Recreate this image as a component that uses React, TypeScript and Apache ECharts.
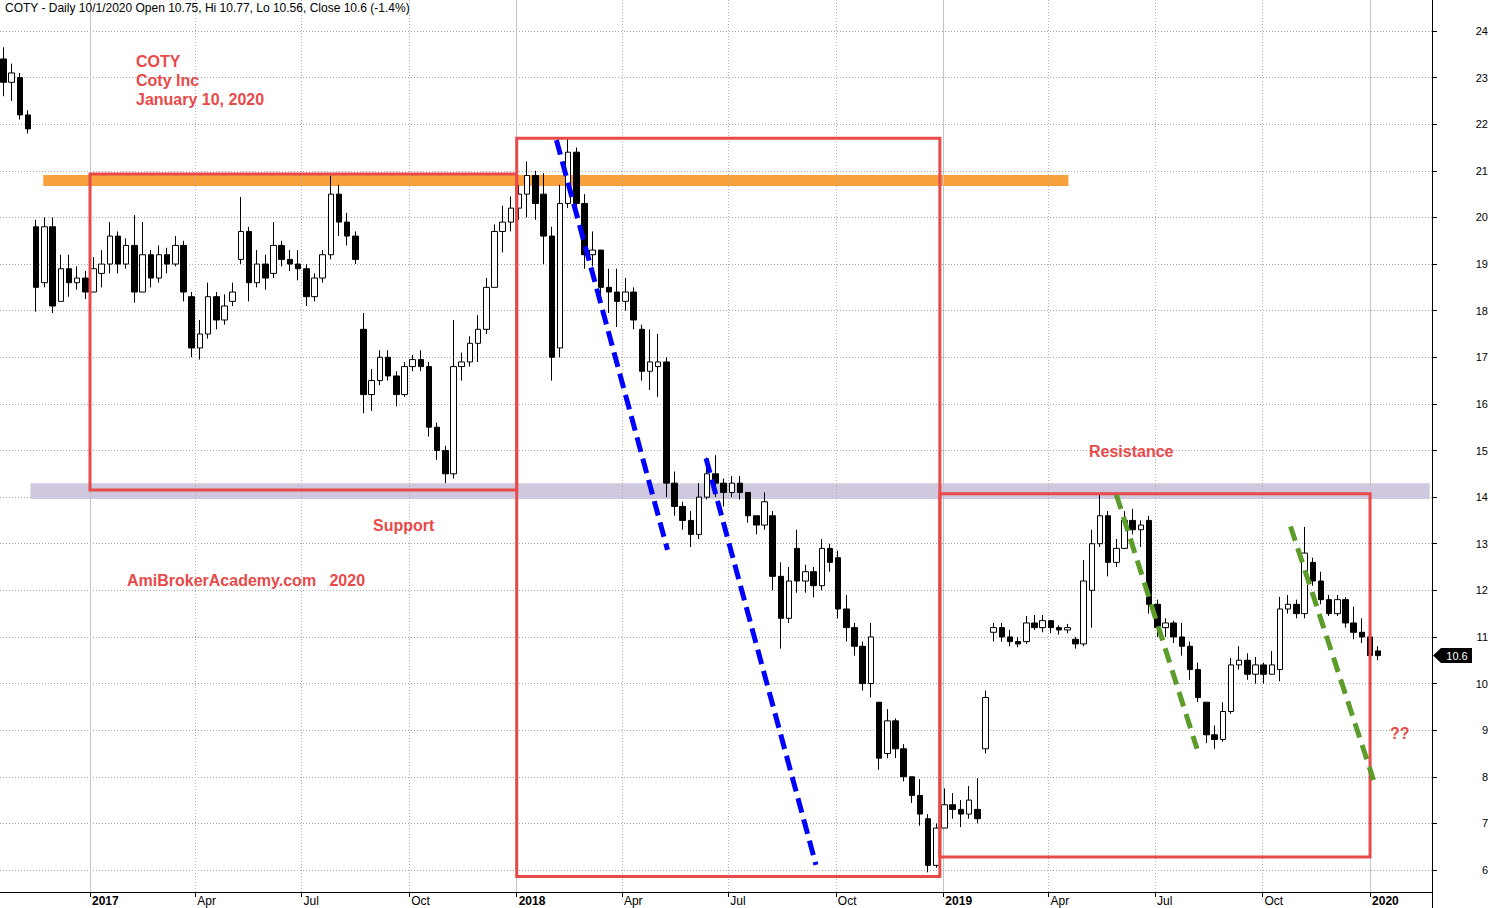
import React, { useEffect, useRef } from "react";
import * as echarts from "echarts";

// Weekly OHLC: [open, close, low, high]; one entry per week (Wednesday dates)
const firstWeek = "2016-10-19";
const ohlc2016 = [
  [23.4, 22.9, 22.6, 23.65], [22.9, 23.1, 22.5, 23.3], [23.0, 22.2, 22.1, 23.1], [22.2, 21.9, 21.8, 22.3],
  [19.8, 18.5, 17.98, 19.95], [18.6, 19.8, 18.5, 20.0], [19.8, 18.1, 17.95, 20.0], [18.2, 18.9, 18.2, 19.2],
  [18.9, 18.6, 18.3, 19.2], [18.6, 18.7, 18.45, 18.95], [18.7, 18.4, 18.25, 18.85],
];
const ohlc2017 = [
  [18.4, 18.9, 18.4, 19.15], [18.8, 19.0, 18.5, 19.3], [19.0, 19.6, 18.8, 19.9], [19.6, 19.0, 18.8, 19.7],
  [19.0, 19.4, 18.9, 19.55], [19.4, 18.4, 18.17, 20.05], [18.4, 19.2, 18.4, 19.9], [19.2, 18.7, 18.5, 19.3],
  [18.7, 19.2, 18.6, 19.4], [19.2, 19.0, 18.8, 19.35], [19.0, 19.4, 18.95, 19.6], [19.4, 18.4, 18.2, 19.5],
  [18.3, 17.2, 17.0, 18.4], [17.2, 17.5, 16.95, 17.8], [17.5, 18.3, 17.4, 18.6], [18.3, 17.8, 17.6, 18.4],
  [17.8, 18.1, 17.7, 18.35], [18.2, 18.4, 18.1, 18.6], [19.1, 19.7, 19.0, 20.44], [19.7, 18.6, 18.2, 19.8],
  [18.6, 19.0, 18.5, 19.3], [19.0, 18.7, 18.45, 19.2], [18.8, 19.4, 18.7, 19.9], [19.4, 19.1, 18.95, 19.5],
  [19.1, 19.0, 18.85, 19.3], [19.0, 18.9, 18.65, 19.3], [18.9, 18.3, 18.1, 19.0], [18.3, 18.7, 18.2, 18.8],
  [18.7, 19.2, 18.6, 19.3], [19.2, 20.5, 19.1, 20.9], [20.5, 19.9, 19.6, 20.7], [19.9, 19.6, 19.4, 20.1],
  [19.6, 19.1, 19.0, 19.7], [17.6, 16.2, 15.8, 17.95], [16.2, 16.5, 15.85, 16.75], [16.5, 17.0, 16.4, 17.15],
  [17.0, 16.6, 16.5, 17.15], [16.6, 16.2, 15.95, 16.7], [16.2, 16.8, 16.15, 16.9], [16.8, 16.95, 16.7, 17.05],
  [16.95, 16.8, 16.7, 17.15], [16.8, 15.5, 15.3, 16.9], [15.5, 15.0, 14.8, 15.6], [15.0, 14.5, 14.3, 15.1],
  [14.5, 16.8, 14.4, 17.8], [16.8, 16.9, 16.5, 17.1], [16.9, 17.3, 16.8, 17.45], [17.3, 17.6, 16.9, 17.9],
  [17.6, 18.5, 17.5, 18.7], [18.5, 19.7, 18.5, 19.85], [19.7, 19.9, 19.25, 20.25], [19.9, 20.2, 19.7, 20.45],
];
const ohlc2018 = [
  [20.2, 20.5, 19.95, 20.7], [20.5, 20.9, 20.0, 21.2], [20.9, 20.3, 19.95, 21.0], [20.5, 19.6, 19.0, 20.95],
  [19.6, 17.0, 16.5, 19.8], [17.2, 20.3, 17.0, 20.7], [20.3, 21.4, 20.2, 21.7], [21.4, 20.3, 20.0, 21.5],
  [20.3, 19.2, 18.9, 20.5], [19.2, 19.3, 18.95, 19.7], [19.3, 18.5, 18.3, 19.3], [18.5, 18.4, 17.95, 18.9],
  [18.4, 18.2, 17.65, 18.9], [18.2, 18.4, 18.0, 18.7], [18.4, 17.8, 17.6, 18.5], [17.6, 16.7, 16.5, 17.7],
  [16.7, 16.9, 16.3, 17.6], [16.8, 16.9, 16.15, 17.5], [16.9, 14.3, 14.0, 17.0], [14.3, 13.8, 13.6, 14.55],
  [13.8, 13.5, 13.3, 13.9], [13.5, 13.2, 12.93, 13.7], [13.2, 14.0, 13.1, 14.3], [14.0, 14.5, 13.95, 14.85],
  [14.5, 14.3, 14.0, 14.9], [14.3, 14.1, 13.8, 14.4], [14.1, 14.3, 14.0, 14.45], [14.3, 14.1, 13.95, 14.45],
  [14.1, 13.6, 13.45, 14.1], [13.6, 13.4, 13.2, 13.6], [13.4, 13.9, 13.3, 14.1], [13.6, 12.3, 12.0, 13.7],
  [12.3, 11.4, 10.75, 12.6], [11.4, 12.2, 11.3, 12.5], [12.9, 12.2, 11.95, 13.3], [12.2, 12.4, 11.95, 12.55],
  [12.4, 12.1, 11.85, 12.5], [12.1, 12.9, 12.0, 13.1], [12.9, 12.6, 12.4, 13.0], [12.7, 11.6, 11.4, 12.85],
  [11.6, 11.2, 10.9, 11.9], [11.2, 10.8, 10.6, 11.3], [10.8, 10.0, 9.85, 10.9], [10.0, 11.0, 9.7, 11.3],
  [9.6, 8.4, 8.15, 9.6], [8.5, 9.2, 8.4, 9.45], [9.2, 8.6, 8.4, 9.25], [8.6, 8.0, 7.9, 8.7],
  [8.0, 7.6, 7.44, 8.0], [7.6, 7.2, 6.95, 7.95], [7.1, 6.1, 5.95, 7.2], [6.1, 6.9, 6.05, 7.0],
];
const ohlc2019 = [
  [6.9, 7.4, 6.9, 7.75], [7.4, 7.3, 7.1, 7.65], [7.3, 7.2, 6.92, 7.5], [7.2, 7.5, 7.1, 7.8],
  [7.3, 7.1, 7.0, 7.97], [8.6, 9.7, 8.5, 9.85], [11.1, 11.2, 10.9, 11.3], [11.2, 11.0, 10.9, 11.3],
  [11.0, 10.9, 10.8, 11.15], [10.9, 10.85, 10.78, 11.0], [10.9, 11.3, 10.85, 11.45], [11.3, 11.2, 11.15, 11.47],
  [11.2, 11.35, 11.1, 11.47], [11.35, 11.2, 11.08, 11.35], [11.2, 11.15, 11.05, 11.25], [11.15, 11.2, 11.08, 11.28],
  [10.95, 10.85, 10.75, 11.0], [10.85, 12.2, 10.8, 12.65], [12.0, 13.0, 11.2, 13.3], [13.0, 13.6, 12.93, 14.05],
  [13.6, 12.6, 12.3, 13.7], [12.6, 12.9, 12.5, 13.1], [12.9, 13.5, 12.9, 13.7], [13.5, 13.3, 13.2, 13.75],
  [13.3, 13.4, 12.93, 13.5], [13.5, 11.7, 11.5, 13.6], [11.7, 11.2, 11.0, 11.8], [11.2, 11.3, 11.0, 11.4],
  [11.3, 11.0, 10.87, 11.35], [11.0, 10.8, 10.6, 11.3], [10.8, 10.3, 10.08, 10.9], [10.3, 9.7, 9.6, 10.45],
  [9.6, 8.9, 8.72, 9.6], [8.9, 8.8, 8.6, 9.1], [8.8, 9.4, 8.75, 9.6], [9.4, 10.4, 9.35, 10.55],
  [10.4, 10.5, 10.3, 10.8], [10.5, 10.2, 10.08, 10.65], [10.2, 10.4, 10.0, 10.57], [10.4, 10.2, 10.0, 10.45],
  [10.2, 10.4, 10.2, 10.7], [10.3, 11.6, 10.05, 11.86], [11.6, 11.7, 11.5, 11.9], [11.7, 11.5, 11.4, 11.8],
  [11.5, 12.8, 11.4, 13.36], [12.6, 12.2, 12.1, 12.7], [12.2, 11.8, 11.7, 12.4], [11.8, 11.5, 11.45, 11.9],
  [11.5, 11.8, 11.45, 11.9], [11.8, 11.3, 11.2, 11.85], [11.3, 11.1, 10.95, 11.65], [11.1, 11.0, 10.87, 11.4],
];
const ohlc2020 = [
  [11.0, 10.6, 10.36, 11.0], [10.7, 10.6, 10.5, 10.8],
];

const lastClose = 10.6;
const quarterTicks = [
  "2017-01-01", "2017-04-01", "2017-07-01", "2017-10-01",
  "2018-01-01", "2018-04-01", "2018-07-01", "2018-10-01",
  "2019-01-01", "2019-04-01", "2019-07-01", "2019-10-01", "2020-01-01",
];
const MONTHS = ["Jan", "Feb", "Mar", "Apr", "May", "Jun", "Jul", "Aug", "Sep", "Oct", "Nov", "Dec"];

// annotation boxes / bands: [startDate, topPrice, endDate, bottomPrice]
const resistanceBand = ["2016-11-22", 20.91, "2019-04-18", 20.675];
const supportBand = ["2016-11-11", 14.3, "2020-02-21", 13.96];
const boxes = [
  ["2017-01-01", 20.93, "2018-01-01", 14.15],
  ["2018-01-01", 21.7, "2018-12-29", 5.86],
  ["2018-12-29", 14.07, "2020-01-01", 6.28],
];
const blueTrends = [
  ["2018-02-04", 21.66, "2018-05-10", 12.87],
  ["2018-06-12", 14.83, "2018-09-14", 6.11],
];
const greenTrends = [
  ["2019-05-29", 14.05, "2019-08-06", 8.6],
  ["2019-10-25", 13.37, "2020-01-04", 7.93],
];

function ts(s: string): number {
  const [y, m, d] = s.split("-").map(Number);
  return Date.UTC(y, m - 1, d);
}

const RED = "#e84a4a";
const FONT = "'Liberation Sans', Arial, sans-serif";

export default function App() {
  const ref = useRef<HTMLDivElement>(null);
  useEffect(() => {
    document.body.style.margin = "0";
    const chart = echarts.init(ref.current!, undefined, { renderer: "svg" });
    const all = [...ohlc2016, ...ohlc2017, ...ohlc2018, ...ohlc2019, ...ohlc2020];
    const t0 = ts(firstWeek);
    const data = all.map((v, i) => [t0 + i * 7 * 86400000, v[0], v[1], v[2], v[3]]);
    const qTs = quarterTicks.map(ts);

    const yBottom = 5.528;
    const yTop = 24.67;
    const gridLines = quarterTicks.map((q) => {
      const t = ts(q);
      const isYear = q.endsWith("-01-01");
      return [
        {
          coord: [t, yBottom],
          lineStyle: isYear
            ? { color: "#c4c4c4", width: 1, type: "solid" }
            : { color: "#b0b0b0", width: 1, type: [1, 2] },
        },
        { coord: [t, yTop] },
      ];
    });

    const band = (b: any[], color: string) => [
      { coord: [ts(b[0]), b[1]], itemStyle: { color } },
      { coord: [ts(b[2]), b[3]] },
    ];
    const trend = (t: any[], color: string, dash: number[]) => [
      { coord: [ts(t[0]), t[1]], lineStyle: { color, width: 5, type: dash, cap: "butt" } },
      { coord: [ts(t[2]), t[3]] },
    ];

    const option: any = {
      animation: false,
      backgroundColor: "#ffffff",
      textStyle: { fontFamily: FONT },
      grid: {
        left: 0,
        right: 61,
        top: -15.61,
        bottom: -8.61,
        containLabel: false,
        outerBoundsMode: "none",
      },
      xAxis: {
        type: "value",
        min: ts("2016-10-16"),
        max: ts("2020-02-23"),
        position: "bottom",
        offset: -24.6,
        axisLine: { show: true, lineStyle: { color: "#000", width: 1 } },
        axisTick: { show: true, length: 5, customValues: qTs, lineStyle: { color: "#000" } },
        axisLabel: {
          customValues: qTs,
          align: "left",
          margin: 3,
          padding: [0, 0, 0, 2],
          fontSize: 12,
          color: "#000",
          fontFamily: FONT,
          formatter: (v: number) => {
            const d = new Date(v);
            const m = d.getUTCMonth();
            return m === 0 ? `{y|${d.getUTCFullYear()}}` : MONTHS[m];
          },
          rich: { y: { fontWeight: "bold", fontSize: 12, color: "#000", fontFamily: FONT } },
        },
        splitLine: { show: false },
      },
      yAxis: {
        type: "value",
        position: "right",
        min: 5,
        max: 25,
        interval: 1,
        axisLine: { show: true, lineStyle: { color: "#000", width: 1 } },
        axisTick: { show: true, length: 5, lineStyle: { color: "#000" } },
        axisLabel: {
          align: "right",
          margin: 56,
          fontSize: 11,
          color: "#000",
          fontFamily: FONT,
          formatter: (v: number) => (v < 6 || v > 24 ? "" : String(v)),
        },
        splitLine: { show: true, lineStyle: { color: "#a8a8a8", width: 1, type: [1, 2] } },
      },
      series: [
        {
          type: "line",
          data: [],
          silent: true,
          z: 1,
          markArea: {
            silent: true,
            z: 1,
            data: [band(resistanceBand, "#f8a03c"), band(supportBand, "#cfc8df")],
          },
          markLine: {
            silent: true,
            z: 1,
            symbol: ["none", "none"],
            label: { show: false },
            data: gridLines,
          },
        },
        {
          type: "candlestick",
          data,
          encode: { x: 0, y: [1, 2, 3, 4] },
          barWidth: 6,
          z: 2,
          silent: true,
          itemStyle: {
            color: "#ffffff",
            color0: "#000000",
            borderColor: "#000000",
            borderColor0: "#000000",
            borderWidth: 1,
          },
        },
        {
          type: "line",
          data: [],
          silent: true,
          z: 3,
          markArea: {
            silent: true,
            z: 3,
            itemStyle: { color: "rgba(0,0,0,0)", borderColor: RED, borderWidth: 3 },
            data: boxes.map((b) => [
              { coord: [ts(b[0] as string), b[1]] },
              { coord: [ts(b[2] as string), b[3]] },
            ]),
          },
          markLine: {
            silent: true,
            z: 4,
            symbol: ["none", "none"],
            label: { show: false },
            data: [
              ...blueTrends.map((t) => trend(t, "#0000ff", [15, 7])),
              ...greenTrends.map((t) => trend(t, "#5b9c2b", [15, 8])),
            ],
          },
        },
      ],
    };
    chart.setOption(option);

    const yTag = chart.convertToPixel({ yAxisIndex: 0 }, lastClose) as number;
    const redText = (text: string, x: number, y: number) => ({
      type: "text",
      x,
      y,
      silent: true,
      z: 100,
      style: {
        text,
        fill: RED,
        font: `bold 16px ${FONT}`,
        align: "left",
        verticalAlign: "middle",
      },
    });
    chart.setOption({
      graphic: [
        {
          type: "text",
          x: 5,
          y: 8,
          silent: true,
          z: 100,
          style: {
            text: "COTY - Daily 10/1/2020 Open 10.75, Hi 10.77, Lo 10.56, Close 10.6 (-1.4%)",
            fill: "#000",
            font: `12px ${FONT}`,
            align: "left",
            verticalAlign: "middle",
          },
        },
        redText("COTY", 136, 61),
        redText("Coty Inc", 136, 80),
        redText("January 10, 2020", 136, 99),
        redText("Support", 373, 525),
        redText("Resistance", 1089, 451),
        redText("AmiBrokerAcademy.com   2020", 127, 580),
        redText("??", 1390, 733),
        {
          type: "polygon",
          silent: true,
          z: 100,
          shape: {
            points: [
              [1433, yTag],
              [1441, yTag - 7.5],
              [1472, yTag - 7.5],
              [1472, yTag + 7.5],
              [1441, yTag + 7.5],
            ],
          },
          style: { fill: "#000" },
        },
        {
          type: "text",
          x: 1457,
          y: yTag,
          silent: true,
          z: 101,
          style: {
            text: String(lastClose),
            fill: "#fff",
            font: `11px ${FONT}`,
            align: "center",
            verticalAlign: "middle",
          },
        },
      ],
    });

    return () => chart.dispose();
  }, []);
  return (
    <div
      ref={ref}
      style={{ position: "absolute", left: 0, top: 0, width: 1493, height: 908, background: "#fff" }}
    />
  );
}
